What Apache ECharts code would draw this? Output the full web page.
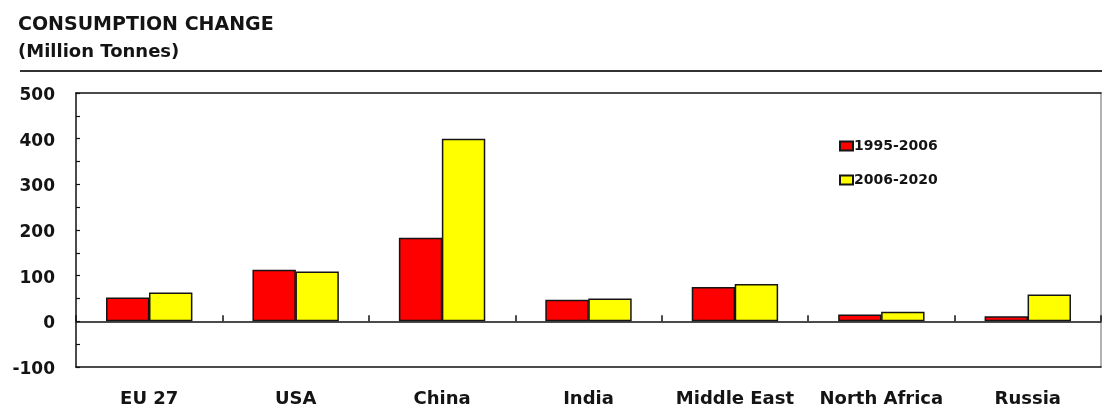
<!DOCTYPE html>
<html>
<head>
<meta charset="utf-8">
<script src="https://cdn.jsdelivr.net/npm/echarts@6/dist/echarts.min.js"></script>
<style>
  html, body { margin: 0; padding: 0; background: #fff; }
  #chart { width: 1102px; height: 410px; }
</style>
</head>
<body>
<div id="chart"></div>
<script>
// Regions compared
const categories = ['EU 27', 'USA', 'China', 'India', 'Middle East', 'North Africa', 'Russia'];
// Consumption change, million tonnes
const period1Name = '1995-2006';
const period1 = [52, 113, 183, 47, 75, 15, 11];
const period2Name = '2006-2020';
const period2 = [63, 109, 400, 50, 82, 21, 59];
// Value axis range
const yMin = -100;
const yMax = 500;
const yStep = 100;

const FONT = 'DejaVu Sans';
const INK = '#141414';

const chart = echarts.init(document.getElementById('chart'), null, { renderer: 'canvas' });

const barStyle = (color) => ({ color: color, borderColor: '#151515', borderWidth: 1.5 });

chart.setOption({
  backgroundColor: '#ffffff',
  animation: false,
  title: {
    text: 'CONSUMPTION CHANGE',
    subtext: '(Million Tonnes)',
    left: 18,
    top: 16,
    padding: 0,
    itemGap: 8,
    textStyle: { fontFamily: FONT, fontWeight: 'bold', fontSize: 19, color: INK },
    subtextStyle: { fontFamily: FONT, fontWeight: 'bold', fontSize: 18, color: INK }
  },
  graphic: [{
    type: 'line',
    shape: { x1: 20, y1: 71, x2: 1102, y2: 71 },
    style: { stroke: '#333', lineWidth: 2 },
    silent: true
  }],
  legend: {
    orient: 'vertical',
    left: 834,
    top: 134,
    icon: 'rect',
    itemWidth: 13,
    itemHeight: 9,
    itemGap: 20,
    data: [period1Name, period2Name],
    textStyle: { fontFamily: FONT, fontWeight: 'bold', fontSize: 14, color: INK, padding: [0, 0, 0, -4] }
  },
  grid: { left: 76, right: 1, top: 93, bottom: 43, containLabel: false },
  xAxis: [
    {
      // bottom frame edge with category labels
      type: 'category',
      data: categories,
      position: 'bottom',
      axisLine: { onZero: false, lineStyle: { color: '#111', width: 1.5 } },
      axisTick: { show: false },
      axisLabel: { interval: 0, margin: 23, fontFamily: FONT, fontWeight: 'bold', fontSize: 18, color: INK }
    },
    {
      // zero line with upward category ticks
      type: 'category',
      data: categories,
      position: 'top',
      axisLine: { onZero: true, lineStyle: { color: '#111', width: 1.5 } },
      axisTick: { show: true, inside: false, length: 6, lineStyle: { color: '#111', width: 1.5 } },
      axisLabel: { show: false }
    },
    {
      // top frame edge
      type: 'category',
      data: categories,
      position: 'top',
      axisLine: { onZero: false, lineStyle: { color: '#111', width: 1.5 } },
      axisTick: { show: false },
      axisLabel: { show: false }
    }
  ],
  yAxis: [
    {
      type: 'value',
      min: yMin,
      max: yMax,
      interval: yStep,
      position: 'left',
      axisLine: { show: true, lineStyle: { color: '#111', width: 1.5 } },
      axisTick: { show: true, inside: true, length: 4, lineStyle: { color: '#111', width: 1.2 } },
      minorTick: { show: true, splitNumber: 2, length: 4, lineStyle: { color: '#111', width: 1.2 } },
      splitLine: { show: false },
      axisLabel: {
        margin: 21,
        formatter: (v) => '{n|' + v + '}',
        rich: {
          n: { padding: [5, 0, 0, 0], fontFamily: FONT, fontWeight: 'bold', fontSize: 17, color: INK }
        }
      }
    },
    {
      // right frame edge
      type: 'value',
      min: yMin,
      max: yMax,
      interval: yStep,
      position: 'right',
      axisLine: { show: true, lineStyle: { color: '#9a9a9a', width: 1.5 } },
      axisTick: { show: false },
      splitLine: { show: false },
      axisLabel: { show: false }
    }
  ],
  series: [
    {
      name: period1Name,
      type: 'bar',
      xAxisIndex: 0,
      yAxisIndex: 0,
      data: period1,
      barGap: '-1%',
      barCategoryGap: '41%',
      itemStyle: barStyle('#ff0000')
    },
    {
      name: period2Name,
      type: 'bar',
      xAxisIndex: 0,
      yAxisIndex: 0,
      data: period2,
      barGap: '-1%',
      barCategoryGap: '41%',
      itemStyle: barStyle('#ffff00')
    }
  ]
});
</script>
</body>
</html>
